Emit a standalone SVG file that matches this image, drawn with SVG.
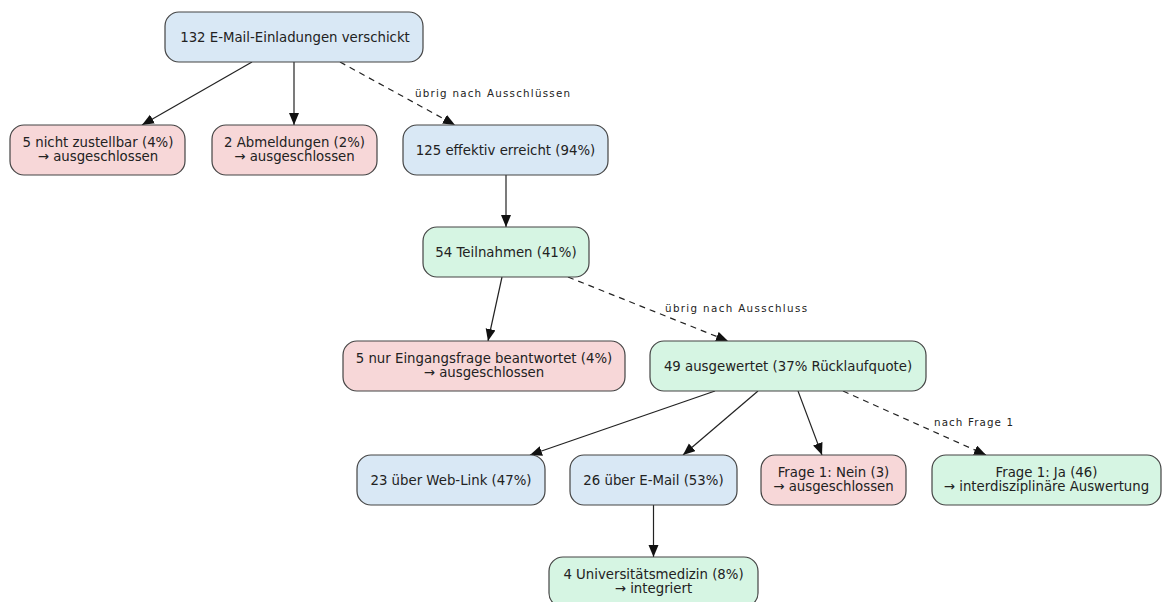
<svg xmlns="http://www.w3.org/2000/svg" width="1165" height="602" viewBox="0 0 1165 602">
<defs>
<marker id="ah" markerUnits="userSpaceOnUse" markerWidth="14" markerHeight="11" refX="12" refY="5" orient="auto">
<path d="M0,0 L12,5 L0,10 z" fill="#111"/>
</marker>
<style>
.n rect{stroke:#444;stroke-width:1.2}
.blue rect{fill:#d9e8f5}
.red rect{fill:#f7d7d8}
.green rect{fill:#d6f5e3}
.n text{font-family:"DejaVu Sans",Verdana,sans-serif;font-size:13.3px;fill:#222;text-anchor:middle}
.e line{stroke:#222;stroke-width:1.2;marker-end:url(#ah)}
.e .d{stroke-dasharray:6,5}
.lbl{font-family:"DejaVu Sans",Verdana,sans-serif;font-size:10.3px;fill:#222}
</style>
</defs>
<rect width="1165" height="602" fill="#fff"/>
<g id="connectors" class="e">
<line x1="252" y1="62" x2="142" y2="125"/>
<line x1="294" y1="62" x2="294" y2="125"/>
<line class="d" x1="340" y1="62" x2="455" y2="125"/>
<line x1="506" y1="175" x2="506" y2="227"/>
<line x1="502" y1="277" x2="488" y2="341"/>
<line class="d" x1="568" y1="277" x2="728" y2="341"/>
<line x1="715" y1="391" x2="530" y2="455"/>
<line x1="758" y1="391" x2="683" y2="455"/>
<line x1="798" y1="391" x2="822" y2="455"/>
<line class="d" x1="843" y1="391" x2="986" y2="455"/>
<line x1="653.5" y1="505" x2="653.5" y2="557"/>
<text class="lbl" x="415" y="97" textLength="155" lengthAdjust="spacing">übrig nach Ausschlüssen</text>
<text class="lbl" x="665" y="312" textLength="142" lengthAdjust="spacing">übrig nach Ausschluss</text>
<text class="lbl" x="934" y="426" textLength="79" lengthAdjust="spacing">nach Frage 1</text>
</g>
<g id="n_sent" class="n blue"><rect x="165" y="12" width="258" height="50" rx="14"/><text x="295" y="41.5">132 E-Mail-Einladungen verschickt</text></g>
<g id="n_undeliverable" class="n red"><rect x="10" y="125" width="175" height="50" rx="14"/><text x="98" y="146.5">5 nicht zustellbar (4%)</text><text x="98" y="160.5">→ ausgeschlossen</text></g>
<g id="n_unsubscribed" class="n red"><rect x="212" y="125" width="165" height="50" rx="14"/><text x="294.5" y="146.5">2 Abmeldungen (2%)</text><text x="294.5" y="160.5">→ ausgeschlossen</text></g>
<g id="n_reached" class="n blue"><rect x="403" y="125" width="205" height="50" rx="14"/><text x="505.5" y="154.5">125 effektiv erreicht (94%)</text></g>
<g id="n_participants" class="n green"><rect x="423" y="227" width="166" height="50" rx="14"/><text x="506" y="256.5">54 Teilnahmen (41%)</text></g>
<g id="n_entryonly" class="n red"><rect x="343" y="341" width="282" height="50" rx="14"/><text x="484" y="362.5">5 nur Eingangsfrage beantwortet (4%)</text><text x="484" y="376.5">→ ausgeschlossen</text></g>
<g id="n_evaluated" class="n green"><rect x="650" y="341" width="276" height="50" rx="14"/><text x="788" y="370.5">49 ausgewertet (37% Rücklaufquote)</text></g>
<g id="n_weblink" class="n blue"><rect x="357" y="455" width="188" height="50" rx="14"/><text x="451" y="484.5">23 über Web-Link (47%)</text></g>
<g id="n_email" class="n blue"><rect x="570" y="455" width="167" height="50" rx="14"/><text x="653.5" y="484.5">26 über E-Mail (53%)</text></g>
<g id="n_q1no" class="n red"><rect x="761" y="455" width="145" height="50" rx="14"/><text x="833.5" y="476.5">Frage 1: Nein (3)</text><text x="833.5" y="490.5">→ ausgeschlossen</text></g>
<g id="n_q1yes" class="n green"><rect x="932" y="455" width="229" height="50" rx="14"/><text x="1046.5" y="476.5">Frage 1: Ja (46)</text><text x="1046.5" y="490.5">→ interdisziplinäre Auswertung</text></g>
<g id="n_unimed" class="n green"><rect x="549" y="557" width="209" height="50" rx="14"/><text x="653.5" y="578.5">4 Universitätsmedizin (8%)</text><text x="653.5" y="592.5">→ integriert</text></g>
</svg>
